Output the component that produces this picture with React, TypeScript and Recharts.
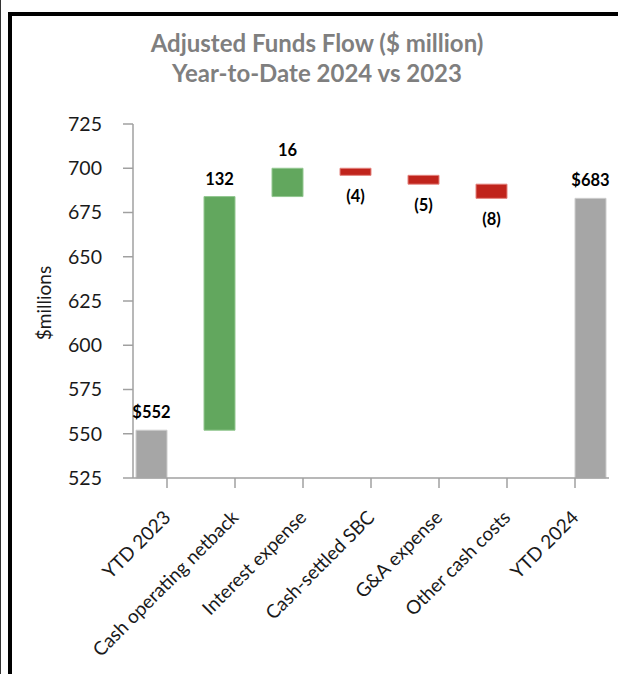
import { Bar, BarChart, Cell, LabelList, XAxis, YAxis } from 'recharts';

const categories = [
  'YTD 2023',
  'Cash operating netback',
  'Interest expense',
  'Cash-settled SBC',
  'G&A expense',
  'Other cash costs',
  'YTD 2024',
];
// start / end totals and the changes between them ($ million)
const amounts = [552, 132, 16, -4, -5, -8, 683];
const kinds = ['start', 'up', 'up', 'down', 'down', 'down', 'end'];
const valueLabels = ['$552', '132', '16', '(4)', '(5)', '(8)', '$683'];
const yTicks = [525, 550, 575, 600, 625, 650, 675, 700, 725];

const Y_MIN = 525;
const Y_MAX = 725;

const colors: Record<string, { fill: string; stroke: string }> = {
  start: { fill: '#a6a6a6', stroke: '#cdcdcd' },
  end: { fill: '#a6a6a6', stroke: '#cdcdcd' },
  up: { fill: '#62a75e', stroke: '#93c790' },
  down: { fill: '#c0241c', stroke: '#e3837e' },
};

const FONT = 'Lato, "Open Sans", sans-serif';

// build the waterfall rows as [low, high] ranges
let running = 0;
const rows = categories.map((name, i) => {
  const kind = kinds[i];
  const v = amounts[i];
  let step: number[] | null = null;
  let total: number[] | null = null;
  if (kind === 'start') {
    running = v;
    step = [Y_MIN, v];
  } else if (kind === 'end') {
    total = [Y_MIN, v];
  } else {
    const next = running + v;
    step = [Math.min(running, next), Math.max(running, next)];
    running = next;
  }
  return {
    name,
    kind,
    step,
    total,
    stepTop: kind === 'start' || kind === 'up' ? valueLabels[i] : null,
    stepBottom: kind === 'down' ? valueLabels[i] : null,
    totalTop: kind === 'end' ? valueLabels[i] : null,
  };
});

const XTick = (props: any) => {
  const { x, y, payload } = props;
  const ax = x;
  const ay = y + 24;
  return (
    <text
      x={ax}
      y={ay}
      dy="0.35em"
      textAnchor="end"
      transform={`rotate(-45, ${ax}, ${ay})`}
      fill="#1a1a1a"
      fontSize={19}
      fontFamily={FONT}
    >
      {payload.value}
    </text>
  );
};

const labelStyle = { fill: '#000', fontSize: 16.5, fontWeight: 700, fontFamily: FONT };

export default function App() {
  return (
    <div
      style={{
        position: 'absolute',
        left: 0,
        top: 0,
        width: 618,
        height: 674,
        overflow: 'hidden',
        background: '#fff',
        fontFamily: FONT,
      }}
    >
      <div style={{ position: 'absolute', left: 0, top: 0, width: 1, height: 674, background: '#333' }} />
      <div
        style={{
          position: 'absolute',
          left: 8,
          top: 12,
          width: 700,
          height: 700,
          borderLeft: '4px solid #000',
          borderTop: '4px solid #000',
        }}
      />
      <div
        style={{
          position: 'absolute',
          left: 17,
          width: 600,
          top: 28,
          textAlign: 'center',
          color: '#7f7f7f',
          fontWeight: 700,
          fontSize: 24,
          lineHeight: '30px',
        }}
      >
        Adjusted Funds Flow ($ million)
        <br />
        Year-to-Date 2024 vs 2023
      </div>
      <div
        style={{
          position: 'absolute',
          left: 43,
          top: 303,
          transform: 'translate(-50%, -50%) rotate(-90deg)',
          fontSize: 19,
          color: '#1a1a1a',
          whiteSpace: 'nowrap',
        }}
      >
        $millions
      </div>
      <div style={{ position: 'absolute', left: 0, top: 0 }}>
        <BarChart
          width={618}
          height={674}
          data={rows}
          margin={{ top: 124, right: 9, left: 73, bottom: 46 }}
          barCategoryGap={3}
          barGap={0}
        >
          <XAxis
            dataKey="name"
            interval={0}
            height={150}
            tick={<XTick />}
            tickSize={10}
            axisLine={{ stroke: '#a0a0a0', strokeWidth: 1.5 }}
            tickLine={{ stroke: '#a0a0a0', strokeWidth: 1.5 }}
          />
          <YAxis
            width={60}
            domain={[Y_MIN, Y_MAX]}
            ticks={yTicks}
            interval={0}
            tickSize={10}
            tickMargin={21}
            tick={{ fill: '#1a1a1a', fontSize: 19.5, fontFamily: FONT }}
            axisLine={{ stroke: '#a0a0a0', strokeWidth: 1.5 }}
            tickLine={{ stroke: '#a0a0a0', strokeWidth: 1.5 }}
          />
          <Bar dataKey="step" isAnimationActive={false} strokeWidth={1}>
            {rows.map((r, i) => (
              <Cell key={i} fill={colors[r.kind].fill} stroke={colors[r.kind].stroke} />
            ))}
            <LabelList dataKey="stepTop" position="top" offset={12} style={labelStyle} />
            <LabelList dataKey="stepBottom" position="bottom" offset={15} style={labelStyle} />
          </Bar>
          <Bar dataKey="total" isAnimationActive={false} strokeWidth={1}>
            {rows.map((r, i) => (
              <Cell key={i} fill={colors[r.kind].fill} stroke={colors[r.kind].stroke} />
            ))}
            <LabelList dataKey="totalTop" position="top" offset={12} style={labelStyle} />
          </Bar>
        </BarChart>
      </div>
    </div>
  );
}
